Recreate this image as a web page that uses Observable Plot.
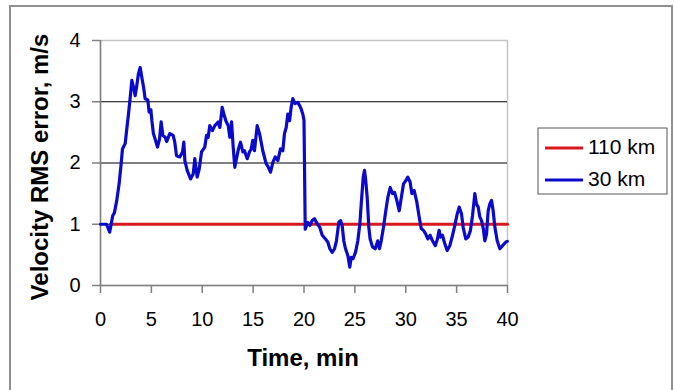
<!DOCTYPE html>
<html><head><meta charset="utf-8">
<script src="https://cdn.jsdelivr.net/npm/d3@7"></script>
<script src="https://cdn.jsdelivr.net/npm/@observablehq/plot@0.6"></script>
<style>
body{margin:0;background:#fff;}
#chart{position:relative;width:674px;height:390px;}
#chart svg{position:absolute;left:0;top:0;}
</style>
</head><body><div id="chart"></div>
<script>
// ---- data ----
const seriesNames = ["110 km", "30 km"];
const time110 = [1, 40];
const rms110 = [1, 1];
const time30 = [0,0.6,0.9,1.05,1.2,1.37,1.6,1.83,2.03,2.16,2.43,2.6,2.75,2.92,3.08,3.24,3.41,3.57,3.73,3.9,4.06,4.23,4.39,4.65,4.78,4.95,5.05,5.2,5.37,5.6,5.8,5.96,6.13,6.36,6.5,6.81,7.14,7.3,7.47,7.8,8.06,8.19,8.29,8.52,8.85,9.11,9.27,9.5,9.7,9.93,10.25,10.42,10.58,10.74,11.0,11.24,11.4,11.57,11.73,11.96,12.12,12.32,12.55,12.71,12.88,13.04,13.2,13.33,13.56,13.76,13.99,14.15,14.42,14.64,14.81,14.97,15.13,15.4,15.63,15.95,16.28,16.5,16.71,16.94,17.17,17.43,17.69,17.92,18.08,18.25,18.41,18.58,18.74,18.9,19.13,19.39,19.66,19.88,20.0,20.12,20.37,20.57,20.8,21.03,21.3,21.55,21.79,22.11,22.34,22.54,22.77,23.0,23.19,23.42,23.59,23.75,23.91,24.08,24.31,24.5,24.64,24.83,25.06,25.29,25.49,25.65,25.82,25.95,26.07,26.21,26.37,26.5,26.73,27.0,27.25,27.42,27.59,27.81,28.04,28.24,28.47,28.7,28.9,29.12,29.36,29.55,29.78,30.0,30.2,30.43,30.6,30.83,31.09,31.32,31.52,31.74,31.97,32.17,32.4,32.63,32.9,33.1,33.28,33.41,33.61,33.84,34.07,34.33,34.6,34.82,35.06,35.25,35.48,35.64,35.9,36.13,36.36,36.56,36.79,36.95,37.12,37.28,37.45,37.62,37.77,37.94,38.1,38.26,38.43,38.59,38.76,38.99,39.25,39.51,39.84,39.98];
const rms30 = [1.0,1.0,0.87,1.0,1.14,1.19,1.39,1.66,1.99,2.23,2.32,2.58,2.8,3.07,3.35,3.24,3.1,3.27,3.46,3.56,3.4,3.24,3.05,3.03,2.83,2.87,2.69,2.48,2.39,2.26,2.39,2.67,2.45,2.42,2.35,2.48,2.45,2.34,2.12,2.1,2.18,2.34,2.04,1.88,1.74,1.82,2.07,1.77,1.9,2.18,2.26,2.45,2.42,2.61,2.53,2.61,2.64,2.67,2.58,2.91,2.8,2.69,2.61,2.42,2.67,2.26,1.93,2.04,2.23,2.34,2.18,2.2,2.07,2.18,2.23,2.37,2.2,2.61,2.48,2.2,1.99,1.93,1.85,2.01,2.1,2.04,2.23,2.2,2.48,2.58,2.8,2.69,2.91,3.05,2.97,2.99,2.91,2.8,2.7,0.92,1.03,0.98,1.06,1.09,1.01,0.95,0.82,0.76,0.71,0.6,0.54,0.6,0.73,1.03,1.06,0.98,0.73,0.6,0.49,0.3,0.46,0.44,0.54,0.73,1.01,1.39,1.77,1.88,1.71,1.44,0.95,0.76,0.63,0.6,0.73,0.6,0.73,0.95,1.22,1.44,1.6,1.5,1.52,1.39,1.22,1.42,1.66,1.71,1.77,1.69,1.5,1.55,1.36,1.12,0.93,0.9,0.84,0.76,0.82,0.73,0.65,0.75,0.9,0.79,0.82,0.68,0.57,0.65,0.82,0.98,1.17,1.28,1.17,0.95,0.76,0.79,0.9,1.14,1.5,1.33,1.28,1.12,1.06,0.93,0.73,0.84,1.22,1.33,1.39,1.22,0.95,0.73,0.6,0.65,0.71,0.72];
const xTicks = [0,5,10,15,20,25,30,35,40];
const yTicks = [0,1,2,3,4];
const gridValues = [1,2,3];
const xTitle = "Time, min";
const yTitle = "Velocity RMS error, m/s";
const colors = ["#d8191c", "#0a0acc"];

const d110 = time110.map((t,i)=>({t, v: rms110[i]}));
const d30 = time30.map((t,i)=>({t, v: rms30[i]}));

const font = "'Liberation Sans', Arial, sans-serif";
const chart = Plot.plot({
  width: 674, height: 390,
  marginLeft: 100, marginRight: 167, marginTop: 40, marginBottom: 105,
  style: {fontFamily: font, fontSize: "20px", background: "transparent", color: "#000"},
  x: {domain: [0, 40]},
  y: {domain: [0, 4]},
  marks: [
    Plot.frame({stroke: "#c4c4c4", strokeWidth: 1.5}),
    Plot.ruleY(gridValues, {stroke: "#000", strokeWidth: 1}),
    Plot.axisX({ticks: xTicks, tickFormat: d3.format("d"), tickSize: 8, tickPadding: 18, stroke: "#808080", strokeWidth: 1.5, label: null, fontSize: 20}),
    Plot.axisY({ticks: yTicks, tickFormat: d3.format("d"), tickSize: 8, tickPadding: 12, stroke: "#808080", strokeWidth: 1.5, label: null, fontSize: 20}),
    Plot.ruleX([0], {stroke: "#808080", strokeWidth: 1.5}),
    Plot.ruleY([0], {stroke: "#808080", strokeWidth: 1.5}),
    Plot.line(d110, {x: "t", y: "v", stroke: colors[0], strokeWidth: 3}),
    Plot.line(d30, {x: "t", y: "v", stroke: colors[1], strokeWidth: 3.2, strokeLinejoin: "round"})
  ]
});
document.getElementById("chart").appendChild(chart);

const svg = d3.select(chart);
// outer chart-area border
svg.append("rect").attr("x", 10).attr("y", 6).attr("width", 662).attr("height", 390)
  .attr("fill", "none").attr("stroke", "#909090").attr("stroke-width", 2);
// axis titles
svg.append("text").attr("x", 303).attr("y", 360).attr("text-anchor", "middle")
  .attr("dominant-baseline", "middle").attr("font-family", font).attr("font-weight", "bold")
  .attr("font-size", 24).text(xTitle);
svg.append("text").attr("transform", "translate(42,167) rotate(-90)").attr("text-anchor", "middle")
  .attr("dominant-baseline", "middle").attr("font-family", font).attr("font-weight", "bold")
  .attr("font-size", 24).text(yTitle);
// legend
const lg = svg.append("g");
lg.append("rect").attr("x", 538).attr("y", 128).attr("width", 129).attr("height", 66)
  .attr("fill", "#fff").attr("stroke", "#555").attr("stroke-width", 1);
seriesNames.forEach((name, i) => {
  const y = 148 + i * 32;
  lg.append("line").attr("x1", 545).attr("x2", 583).attr("y1", y).attr("y2", y)
    .attr("stroke", colors[i]).attr("stroke-width", 3);
  lg.append("text").attr("x", 588).attr("y", y).attr("text-anchor", "start")
    .attr("dominant-baseline", "middle")
    .attr("font-family", font).attr("font-size", 21).text(name);
});
</script>
</body></html>
